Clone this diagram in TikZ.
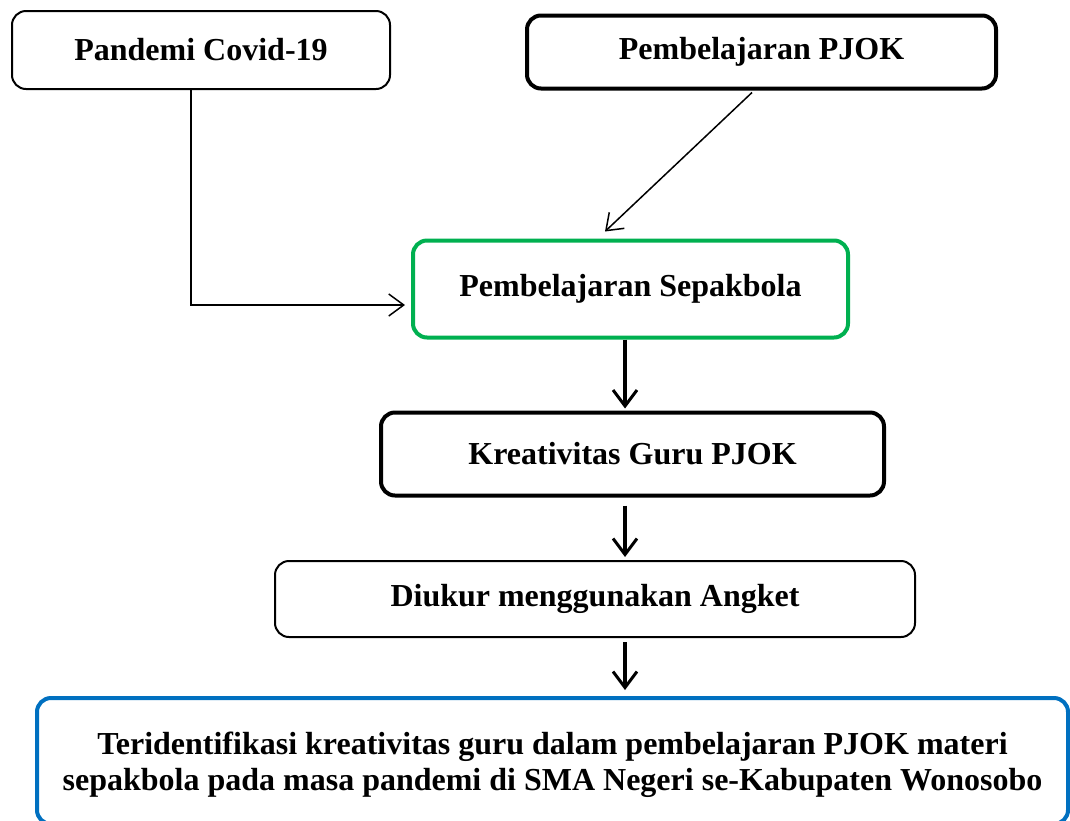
\documentclass[tikz,border=0pt]{standalone}
\usepackage{fontspec}
\setmainfont{Liberation Serif}
\usetikzlibrary{arrows.meta}
\definecolor{okgreen}{RGB}{0,176,80}
\definecolor{okblue}{RGB}{0,112,192}
\begin{document}
\begin{tikzpicture}[x=1pt,y=-1pt,
  box/.style={draw=black,rounded corners=14pt,align=center,inner sep=0pt,
    font=\fontsize{32}{38}\selectfont\bfseries},
  thinbox/.style={box,line width=2pt},
  thickbox/.style={box,line width=4pt},
  thinarrow/.style={line width=1.5pt,-{Straight Barb[length=15pt,width=22pt,line width=1.5pt]}},
  thickarrow/.style={line width=4pt,-{Straight Barb[length=16pt,width=24pt,line width=3pt]}}]
\useasboundingbox (0,0) rectangle (1070,820);
\node[thinbox,minimum width=378pt,minimum height=78pt] (pandemi) at (201,50) {Pandemi Covid-19};
\node[thickbox,minimum width=469pt,minimum height=73pt] (pjok) at (761.5,52) {Pembelajaran PJOK};
\node[thickbox,draw=okgreen,minimum width=435pt,minimum height=97pt] (sepak) at (630.5,289) {Pembelajaran Sepakbola};
\node[thickbox,minimum width=503pt,minimum height=83pt] (kreat) at (632.5,454) {Kreativitas Guru PJOK};
\node[thinbox,minimum width=640pt,minimum height=76pt] (diukur) at (595,599) {Diukur menggunakan Angket};
\node[thickbox,draw=okblue,minimum width=1031pt,minimum height=126pt,text depth=0pt] (final) at (552.5,761)
  {Teridentifikasi kreativitas guru dalam pembelajaran PJOK materi\\[-2pt] sepakbola pada masa pandemi di SMA Negeri se-Kabupaten Wonosobo};
\coordinate (ax) at (625,0);
\draw[thinarrow] ([xshift=-10pt]pandemi.south) |- ([xshift=-6pt,yshift=-16pt]sepak.west);
\draw[thinarrow] ([xshift=-9.5pt,yshift=-2pt]pjok.south) -- ([xshift=-25.5pt,yshift=7pt]sepak.north);
\draw[thickarrow] (sepak.south -| ax) -- ([yshift=2pt]kreat.north -| ax);
\draw[thickarrow] ([yshift=-8pt]kreat.south -| ax) -- ([yshift=3pt]diukur.north -| ax);
\draw[thickarrow] ([yshift=-4pt]diukur.south -| ax) -- ([yshift=6pt]final.north -| ax);
\end{tikzpicture}
\end{document}
